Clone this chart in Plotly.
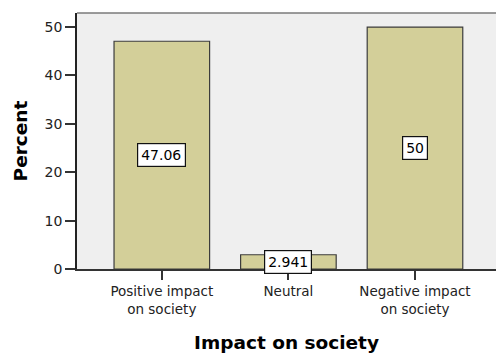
import plotly.graph_objects as go

categories = ["Positive impact<br>on society", "Neutral", "Negative impact<br>on society"]
percents = [47.06, 2.941, 50]
value_labels = ["47.06", "2.941", "50"]

BAR_FILL = "#d3cf99"
BAR_EDGE = "#3c3c3c"
PLOT_BG = "#efefef"
FONT = "DejaVu Sans, Verdana, sans-serif"

fig = go.Figure()
fig.add_trace(go.Bar(
    x=list(range(len(categories))),
    y=percents,
    width=0.755,
    marker=dict(color=BAR_FILL, line=dict(color=BAR_EDGE, width=1.2)),
    hoverinfo="skip",
))

# value boxes centred at half the bar height
for i, (v, lbl) in enumerate(zip(percents, value_labels)):
    fig.add_annotation(
        x=i, y=v / 2, text=lbl, showarrow=False,
        font=dict(family=FONT, size=14, color="black"),
        bgcolor="white", bordercolor="#111111", borderwidth=1.2, borderpad=3,
    )

# thin frame line along the top of the plotting area
fig.add_shape(type="line", xref="paper", yref="paper", x0=0, x1=1, y0=1, y1=1,
              line=dict(color="#7a7a7a", width=1.5))

fig.update_layout(
    width=496, height=354,
    margin=dict(l=77, r=0, t=13, b=85, autoexpand=False),
    paper_bgcolor="white",
    plot_bgcolor=PLOT_BG,
    showlegend=False,
    font=dict(family=FONT, size=14, color="black"),
    xaxis=dict(
        range=[-0.67, 2.64],
        tickmode="array", tickvals=list(range(len(categories))), ticktext=categories,
        ticks="outside", ticklen=9, tickwidth=1.5, tickcolor="#333333",
        showline=True, linecolor="#333333", linewidth=1.5,
        showgrid=False, zeroline=False,
        tickfont=dict(family=FONT, size=13.5, color="#222222"),
        title=dict(text="<b>Impact on society</b>", standoff=21,
                   font=dict(family=FONT, size=18.5, color="black")),
    ),
    yaxis=dict(
        range=[0, 52.9],
        tickvals=[0, 10, 20, 30, 40, 50],
        ticks="outside", ticklen=10, tickwidth=1.5, tickcolor="#333333",
        showline=True, linecolor="#222222", linewidth=1.5,
        showgrid=False, zeroline=False,
        tickfont=dict(family=FONT, size=14, color="#222222"),
        title=dict(text="<b>Percent</b>", standoff=12,
                   font=dict(family=FONT, size=18.5, color="black")),
    ),
)

fig.write_html("out.html")
